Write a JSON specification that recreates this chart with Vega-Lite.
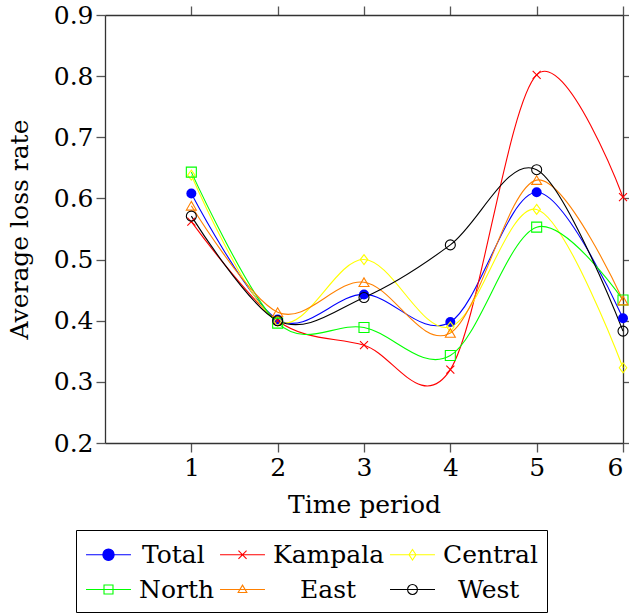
{
  "$schema": "https://vega.github.io/schema/vega-lite/v6.json",
  "width": 518,
  "height": 428,
  "autosize": {"type": "none"},
  "padding": {"left": 105, "top": 15, "right": 6, "bottom": 170},
  "background": "white",
  "config": {
    "view": {"stroke": null},
    "font": "DejaVu Serif",
    "axis": {"grid": false, "ticks": true, "tickOpacity": 1, "domainColor": "#333", "domainWidth": 1.3, "tickColor": "#555", "tickWidth": 1.3, "labelColor": "black", "titleColor": "black", "labelFontSize": 25, "titleFontSize": 25, "titleFontWeight": "normal", "labelFont": "DejaVu Serif", "titleFont": "DejaVu Serif"},
    "point": {"size": 100, "strokeWidth": 1.1, "opacity": 1}
  },
  "data": {
    "values": [
      {"series": "Total", "period": 1, "rate": 0.608},
      {"series": "Total", "period": 2, "rate": 0.402},
      {"series": "Total", "period": 3, "rate": 0.443},
      {"series": "Total", "period": 4, "rate": 0.398},
      {"series": "Total", "period": 5, "rate": 0.610},
      {"series": "Total", "period": 6, "rate": 0.404},
      {"series": "Kampala", "period": 1, "rate": 0.562},
      {"series": "Kampala", "period": 2, "rate": 0.400},
      {"series": "Kampala", "period": 3, "rate": 0.360},
      {"series": "Kampala", "period": 4, "rate": 0.320},
      {"series": "Kampala", "period": 5, "rate": 0.802},
      {"series": "Kampala", "period": 6, "rate": 0.602},
      {"series": "Central", "period": 1, "rate": 0.638},
      {"series": "Central", "period": 2, "rate": 0.399},
      {"series": "Central", "period": 3, "rate": 0.500},
      {"series": "Central", "period": 4, "rate": 0.390},
      {"series": "Central", "period": 5, "rate": 0.582},
      {"series": "Central", "period": 6, "rate": 0.323},
      {"series": "North", "period": 1, "rate": 0.643},
      {"series": "North", "period": 2, "rate": 0.396},
      {"series": "North", "period": 3, "rate": 0.389},
      {"series": "North", "period": 4, "rate": 0.343},
      {"series": "North", "period": 5, "rate": 0.553},
      {"series": "North", "period": 6, "rate": 0.434},
      {"series": "East", "period": 1, "rate": 0.588},
      {"series": "East", "period": 2, "rate": 0.414},
      {"series": "East", "period": 3, "rate": 0.463},
      {"series": "East", "period": 4, "rate": 0.380},
      {"series": "East", "period": 5, "rate": 0.630},
      {"series": "East", "period": 6, "rate": 0.433},
      {"series": "West", "period": 1, "rate": 0.571},
      {"series": "West", "period": 2, "rate": 0.400},
      {"series": "West", "period": 3, "rate": 0.438},
      {"series": "West", "period": 4, "rate": 0.524},
      {"series": "West", "period": 5, "rate": 0.647},
      {"series": "West", "period": 6, "rate": 0.383}
    ]
  },
  "layer": [
    {
      "mark": {"type": "line", "interpolate": "cardinal", "strokeWidth": 1.1},
      "encoding": {
        "x": {"field": "period", "type": "quantitative", "scale": {"domain": [0, 6]},
          "axis": {"orient": "bottom", "values": [1, 2, 3, 4, 5, 6], "format": "d", "ticks": true, "tickSize": 9, "labelPadding": 3, "title": "Time period", "titlePadding": 12,
            "encode": {"ticks": {"update": {"y2": {"value": -9}}}}}},
        "y": {"field": "rate", "type": "quantitative", "scale": {"domain": [0.2, 0.9]},
          "axis": {"orient": "left", "values": [0.2, 0.3, 0.4, 0.5, 0.6, 0.7, 0.8, 0.9], "format": ".1f", "ticks": true, "tickSize": 9, "labelPadding": 3, "title": "Average loss rate", "titlePadding": 21,
            "encode": {"ticks": {"update": {"x2": {"value": 9}}}}}},
        "color": {"field": "series", "type": "nominal",
          "scale": {"domain": ["Total", "Kampala", "Central", "North", "East", "West"], "range": ["#0000ff", "#ff0000", "#ffff00", "#00ff00", "#ff8000", "#000000"]},
          "legend": {
            "orient": "none", "legendX": -29, "legendY": 515, "columns": 3, "direction": "horizontal", "title": null,
            "strokeColor": "black", "fillColor": "white", "padding": 9,
            "symbolSize": 841, "symbolStrokeWidth": 1.1, "symbolOffset": 8, "symbolType": "M-1.55,0H1.55",
            "labelOffset": 15, "columnPadding": 2, "rowPadding": 6,
            "labelFont": "DejaVu Serif", "labelFontSize": 25, "labelColor": "black",
            "encode": {
              "symbols": {"update": {
                "shape": {"signal": "datum.value==='Total' ? 'M-1.55,0H1.55M0.39,0A0.39,0.39 0 1,1 -0.39,0A0.39,0.39 0 1,1 0.39,0Z' : datum.value==='Kampala' ? 'M-1.55,0H1.55M-0.28,-0.28L0.28,0.28M-0.28,0.28L0.28,-0.28' : datum.value==='Central' ? 'M-1.55,0H1.55M0,-0.36L0.24,0L0,0.36L-0.24,0Z' : datum.value==='North' ? 'M-1.55,0H1.55M-0.31,-0.31H0.31V0.31H-0.31Z' : datum.value==='East' ? 'M-1.55,0H1.55M0,-0.3L0.3,0.21H-0.3Z' : 'M-1.55,0H1.55M0.34,0A0.34,0.34 0 1,1 -0.34,0A0.34,0.34 0 1,1 0.34,0Z'"},
                "fill": {"signal": "datum.value==='Total' ? '#0000ff' : 'transparent'"},
                "strokeWidth": {"value": 1.1},
                "opacity": {"value": 1}
              }},
              "labels": {"update": {
                "dx": {"signal": "datum.value==='Total' ? 3 : datum.value==='East' ? 27 : datum.value==='West' ? 15 : 0"}
              }}
            }
          }}
      }
    },
    {
      "transform": [{"filter": "datum.series === 'Total'"}],
      "mark": {"type": "point", "shape": "circle", "filled": true, "color": "#0000ff"},
      "encoding": {
        "x": {"field": "period", "type": "quantitative",
          "axis": {"orient": "top", "values": [1, 2, 3, 4, 5, 6], "labels": false, "ticks": true, "tickSize": 9, "title": null,
            "encode": {"ticks": {"update": {"y2": {"value": 9}}}}}},
        "y": {"field": "rate", "type": "quantitative",
          "axis": {"orient": "right", "values": [0.2, 0.3, 0.4, 0.5, 0.6, 0.7, 0.8, 0.9], "labels": false, "ticks": true, "tickSize": 9, "title": null,
            "encode": {"ticks": {"update": {"x2": {"value": -9}}}}}}
      }
    },
    {
      "transform": [{"filter": "datum.series === 'Kampala'"}],
      "mark": {"type": "point", "shape": "M-0.8,-0.8L0.8,0.8M-0.8,0.8L0.8,-0.8", "filled": false, "color": "#ff0000"},
      "encoding": {
        "x": {"field": "period", "type": "quantitative", "axis": null},
        "y": {"field": "rate", "type": "quantitative", "axis": null}
      }
    },
    {
      "transform": [{"filter": "datum.series === 'Central'"}],
      "mark": {"type": "point", "shape": "M0,-1L0.75,0L0,1L-0.75,0Z", "filled": false, "color": "#ffff00"},
      "encoding": {
        "x": {"field": "period", "type": "quantitative", "axis": null},
        "y": {"field": "rate", "type": "quantitative", "axis": null}
      }
    },
    {
      "transform": [{"filter": "datum.series === 'North'"}],
      "mark": {"type": "point", "shape": "square", "filled": false, "color": "#00ff00"},
      "encoding": {
        "x": {"field": "period", "type": "quantitative", "axis": null},
        "y": {"field": "rate", "type": "quantitative", "axis": null}
      }
    },
    {
      "transform": [{"filter": "datum.series === 'East'"}],
      "mark": {"type": "point", "shape": "triangle-up", "filled": false, "color": "#ff8000"},
      "encoding": {
        "x": {"field": "period", "type": "quantitative", "axis": null},
        "y": {"field": "rate", "type": "quantitative", "axis": null}
      }
    },
    {
      "transform": [{"filter": "datum.series === 'West'"}],
      "mark": {"type": "point", "shape": "circle", "filled": false, "color": "#000000"},
      "encoding": {
        "x": {"field": "period", "type": "quantitative", "axis": null},
        "y": {"field": "rate", "type": "quantitative", "axis": null}
      }
    }
  ],
  "resolve": {"axis": {"x": "independent", "y": "independent"}}
}
